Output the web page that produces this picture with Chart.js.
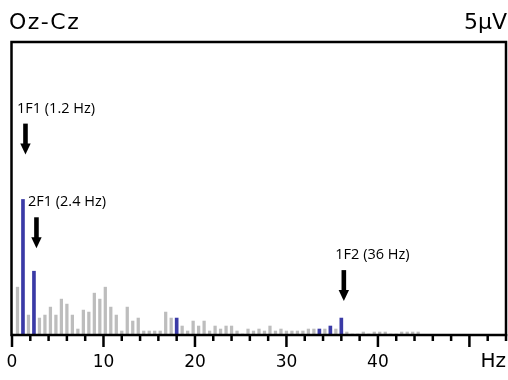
<!DOCTYPE html>
<html><head><meta charset="utf-8">
<script src="https://cdn.jsdelivr.net/npm/chart.js@4/dist/chart.umd.min.js"></script>
<style>html,body{margin:0;padding:0;background:#fff;}canvas{display:block}</style>
</head><body>
<canvas id="c" width="508" height="380"></canvas>
<script>
// ---- data ----
const channelLabel = 'Oz-Cz';
const scaleLabel = '5µV';
const unitLabel = 'Hz';
const freqs = [0.0,0.6,1.2,1.8,2.4,3.0,3.6,4.2,4.8,5.4,6.0,6.6,7.2,7.8,8.4,9.0,9.6,10.2,10.8,11.4,
  12.0,12.6,13.2,13.8,14.4,15.0,15.6,16.2,16.8,17.4,18.0,18.6,19.2,19.8,20.4,21.0,21.6,22.2,22.8,23.4,
  24.0,24.6,25.2,25.8,26.4,27.0,27.6,28.2,28.8,29.4,30.0,30.6,31.2,31.8,32.4,33.0,33.6,34.2,34.8,35.4,
  36.0,36.6,37.2,37.8,38.4,39.0,39.6,40.2,40.8,41.4,42.0,42.6,43.2,43.8,44.4];
const amps = [0,47,135,19,63,16,19,27,19,35,30,19,5,24,22,41,35,47,27,19,
  3,27,13,16,3,3,3,3,22,16,16,8,3,13,8,13,3,8,5,8,
  8,3,0,5,3,5,3,8,3,5,3,3,3,3,5,5,5,5,8,5,
  16,2,0,0,2,0,2,2,2,0,0,2,2,2,2];
const harmonicFreqs = [1.2, 2.4, 18.0, 33.6, 34.8, 36.0];
const labeledTicks = [0, 10, 20, 30, 40];
const annLabels = ['1F1 (1.2 Hz)', '2F1 (2.4 Hz)', '1F2 (36 Hz)'];
const annFreqs = [1.2, 2.4, 36.0];
const annTips = [180, 86, 33];

// ---- build datasets ----
const grayData = [], blueData = [];
freqs.forEach((f, i) => {
  const pt = {x: f, y: amps[i]};
  if (harmonicFreqs.includes(f)) blueData.push(pt); else grayData.push(pt);
});

const decor = {
  id: 'decor',
  afterDraw(chart) {
    const ctx = chart.ctx, a = chart.chartArea, xs = chart.scales.x, ys = chart.scales.y;
    ctx.save();
    // frame
    ctx.strokeStyle = '#000';
    ctx.lineWidth = 2.5;
    ctx.strokeRect(a.left - 0.5, a.top, a.right - a.left + 0.5, a.bottom - a.top + 1);
    // tick marks
    xs.ticks.forEach(t => {
      const px = xs.getPixelForValue(t.value);
      const len = (t.value % 10 === 0) ? 13 : 7;
      ctx.beginPath();
      ctx.moveTo(px, a.bottom);
      ctx.lineTo(px, a.bottom + len);
      ctx.stroke();
    });
    // unit label
    ctx.fillStyle = '#000';
    ctx.font = '20px "DejaVu Sans"';
    ctx.textAlign = 'right';
    ctx.textBaseline = 'alphabetic';
    ctx.fillText(unitLabel, 506, 367);
    // titles
    ctx.font = '22px "DejaVu Sans"';
    ctx.textAlign = 'left';
    ctx.letterSpacing = '1.5px';
    ctx.fillText(channelLabel, 9, 29);
    ctx.letterSpacing = '0px';
    ctx.textAlign = 'right';
    ctx.fillText(scaleLabel, 507, 29);
    // annotations
    ctx.font = '14.5px "Open Sans"';
    ctx.textAlign = 'left';
    ctx.textBaseline = 'middle';
    annLabels.forEach((lab, i) => {
      const bx = xs.getPixelForValue(annFreqs[i]);
      const tip = ys.getPixelForValue(annTips[i]);
      const cx = bx + 2.5;
      ctx.fillText(lab, bx - 6, tip - 46);
      ctx.fillRect(cx - 2.3, tip - 31, 4.6, 21);
      ctx.beginPath();
      ctx.moveTo(cx - 5.2, tip - 11);
      ctx.lineTo(cx + 5.2, tip - 11);
      ctx.lineTo(cx, tip);
      ctx.closePath();
      ctx.fill();
    });
    ctx.restore();
  }
};

new Chart(document.getElementById('c'), {
  type: 'bar',
  data: {
    datasets: [
      {data: grayData, backgroundColor: '#bdbdbd', barThickness: 2.6, grouped: false, borderWidth: 0},
      {data: blueData, backgroundColor: '#3a3aa6', barThickness: 3, grouped: false, borderWidth: 0}
    ]
  },
  options: {
    responsive: false,
    animation: false,
    layout: {autoPadding: false, padding: {left: 12, right: 2, top: 42, bottom: 7.6}},
    plugins: {legend: {display: false}, tooltip: {enabled: false}},
    scales: {
      x: {
        type: 'linear', min: 0, max: 54, offset: false,
        grid: {display: false, drawTicks: true, tickLength: 18},
        border: {display: false},
        ticks: {
          stepSize: 2, autoSkip: false, maxRotation: 0, padding: 0, color: '#000',
          font: {family: 'DejaVu Sans', size: 17},
          callback: v => labeledTicks.includes(v) ? String(v) : ''
        }
      },
      y: {display: false, min: 0, max: 293}
    }
  },
  plugins: [decor]
});
</script>
</body></html>
